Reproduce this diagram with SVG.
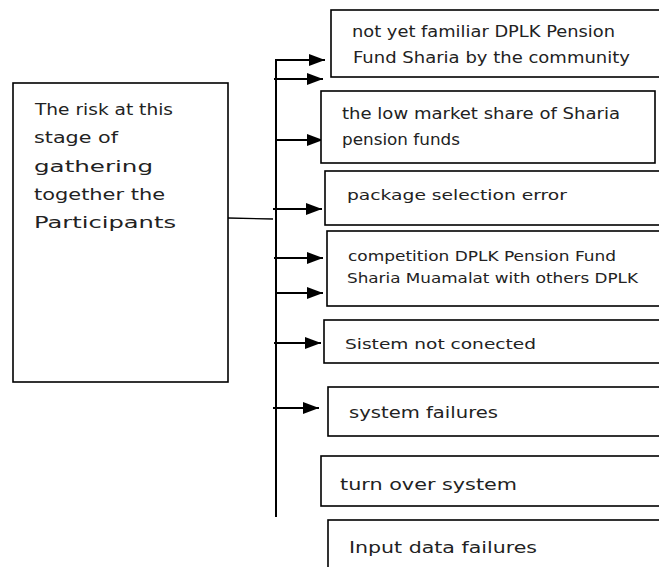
<svg xmlns="http://www.w3.org/2000/svg" width="659" height="567" viewBox="0 0 659 567">
<style>
.box{fill:#fff;stroke:#000;stroke-width:1.6}
.t{font-family:"DejaVu Sans",sans-serif;fill:#222}
.c{stroke:#000;stroke-width:2;fill:none}
</style>
<defs>
<marker id="ah" markerWidth="16" markerHeight="12" refX="16" refY="6" orient="auto" markerUnits="userSpaceOnUse">
<path d="M0,0 L16,6 L0,12 Z" fill="#000"/>
</marker>
</defs>
<rect width="659" height="567" fill="#fff"/>
<g id="connectors">
<line class="c" x1="276" y1="59" x2="276" y2="517"/>
<line x1="228" y1="218" x2="273" y2="219" stroke="#000" stroke-width="1.3"/>
<line class="c" x1="276" y1="60" x2="325" y2="60" marker-end="url(#ah)"/>
<line class="c" x1="274" y1="79" x2="323" y2="79" marker-end="url(#ah)"/>
<line class="c" x1="276" y1="140" x2="323" y2="140" marker-end="url(#ah)"/>
<line class="c" x1="273" y1="209" x2="322" y2="209" marker-end="url(#ah)"/>
<line class="c" x1="274" y1="258" x2="323" y2="258" marker-end="url(#ah)"/>
<line class="c" x1="276" y1="293" x2="323" y2="293" marker-end="url(#ah)"/>
<line class="c" x1="274" y1="343" x2="321" y2="343" marker-end="url(#ah)"/>
<line class="c" x1="273" y1="408" x2="319" y2="408" marker-end="url(#ah)"/>
</g>
<g id="root">
<rect class="box" x="13" y="83" width="215" height="299"/>
<text class="t" font-size="16.5">
<tspan x="35" y="115" textLength="138" lengthAdjust="spacingAndGlyphs">The risk at this</tspan>
<tspan x="34" y="143" textLength="84" lengthAdjust="spacingAndGlyphs">stage of</tspan>
<tspan x="34" y="172" textLength="119" lengthAdjust="spacingAndGlyphs">gathering</tspan>
<tspan x="34" y="200" textLength="131" lengthAdjust="spacingAndGlyphs">together the</tspan>
<tspan x="34" y="228" textLength="142" lengthAdjust="spacingAndGlyphs">Participants</tspan>
</text>
</g>
<g id="n1">
<rect class="box" x="331" y="10" width="340" height="67"/>
<text class="t" font-size="15.5">
<tspan x="352" y="37" textLength="263" lengthAdjust="spacingAndGlyphs">not yet familiar DPLK Pension</tspan>
<tspan x="353" y="63" textLength="277" lengthAdjust="spacingAndGlyphs">Fund Sharia by the community</tspan>
</text>
</g>
<g id="n2">
<rect class="box" x="321" y="91" width="334" height="72"/>
<text class="t" font-size="15.5">
<tspan x="342" y="119" textLength="278" lengthAdjust="spacingAndGlyphs">the low market share of Sharia</tspan>
<tspan x="342" y="145" textLength="118" lengthAdjust="spacingAndGlyphs">pension funds</tspan>
</text>
</g>
<g id="n3">
<rect class="box" x="325" y="171" width="346" height="54"/>
<text class="t" font-size="14.5" x="347" y="200" textLength="220" lengthAdjust="spacingAndGlyphs">package selection error</text>
</g>
<g id="n4">
<rect class="box" x="327" y="231" width="344" height="75"/>
<text class="t" font-size="14.5">
<tspan x="348" y="261" textLength="268" lengthAdjust="spacingAndGlyphs">competition DPLK Pension Fund</tspan>
<tspan x="347" y="283" textLength="291" lengthAdjust="spacingAndGlyphs">Sharia Muamalat with others DPLK</tspan>
</text>
</g>
<g id="n5">
<rect class="box" x="324" y="320" width="347" height="43"/>
<text class="t" font-size="14.5" x="345" y="349" textLength="191" lengthAdjust="spacingAndGlyphs">Sistem not conected</text>
</g>
<g id="n6">
<rect class="box" x="328" y="387" width="343" height="49"/>
<text class="t" font-size="16.5" x="349" y="418" textLength="149" lengthAdjust="spacingAndGlyphs">system failures</text>
</g>
<g id="n7">
<rect class="box" x="321" y="456" width="350" height="50"/>
<text class="t" font-size="16.5" x="340" y="490" textLength="177" lengthAdjust="spacingAndGlyphs">turn over system</text>
</g>
<g id="n8">
<rect class="box" x="328" y="520" width="343" height="60"/>
<text class="t" font-size="16.5" x="349" y="553" textLength="188" lengthAdjust="spacingAndGlyphs">Input data failures</text>
</g>
</svg>
